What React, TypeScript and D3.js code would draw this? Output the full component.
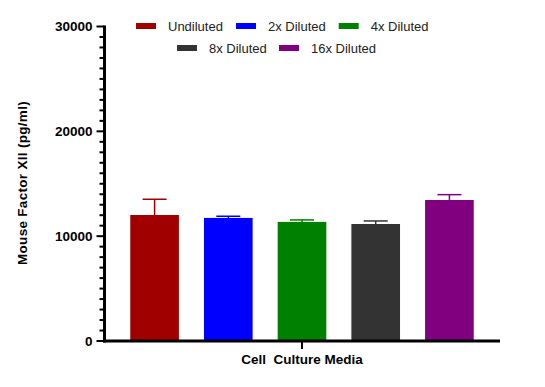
import { useEffect, useRef } from 'react';
import * as d3 from 'd3';

const groups = ['Undiluted', '2x Diluted', '4x Diluted', '8x Diluted', '16x Diluted'];
const means = [12020, 11740, 11360, 11160, 13450];
const errors = [1500, 160, 190, 290, 510];
const colors = ['#a00000', '#0000ff', '#008000', '#333333', '#800080'];
const yTicks = [0, 10000, 20000, 30000];
const legendRows = [[0, 1, 2], [3, 4]];

export default function App() {
  const svgRef = useRef<SVGSVGElement>(null);

  useEffect(() => {
    if (!svgRef.current) return;
    const svg = d3.select(svgRef.current);
    svg.selectAll('*').remove();

    const font = '"Liberation Sans", Arial, sans-serif';
    const left = 104.5;
    const right = 500;
    const bottom = 341;
    const top = 26.5;

    const x = d3.scaleBand<string>()
      .domain(groups)
      .range([117, 487])
      .paddingInner(0.34)
      .paddingOuter(0.18);
    const y = d3.scaleLinear().domain([0, 30000]).range([bottom, top]);

    const g = svg.append('g');

    // bars
    g.selectAll('rect.bar')
      .data(groups)
      .enter()
      .append('rect')
      .attr('x', (d) => x(d)!)
      .attr('y', (_, i) => y(means[i]))
      .attr('width', x.bandwidth())
      .attr('height', (_, i) => bottom - y(means[i]))
      .attr('fill', (_, i) => colors[i]);

    // error bars (upper only)
    groups.forEach((d, i) => {
      const cx = x(d)! + x.bandwidth() / 2;
      const yTop = y(means[i] + errors[i]);
      g.append('line')
        .attr('x1', cx).attr('x2', cx)
        .attr('y1', y(means[i])).attr('y2', yTop)
        .attr('stroke', colors[i])
        .attr('stroke-width', 1.5);
      g.append('line')
        .attr('x1', cx - 12).attr('x2', cx + 12)
        .attr('y1', yTop).attr('y2', yTop)
        .attr('stroke', colors[i])
        .attr('stroke-width', 1.5);
    });

    // y axis minor ticks
    const minor = d3.range(0, 30001, 1000).filter((v) => v % 10000 !== 0);
    minor.forEach((v) => {
      g.append('line')
        .attr('x1', left - 5).attr('x2', left)
        .attr('y1', y(v)).attr('y2', y(v))
        .attr('stroke', '#000')
        .attr('stroke-width', 2);
    });
    yTicks.forEach((v) => {
      g.append('line')
        .attr('x1', left - 8).attr('x2', left)
        .attr('y1', y(v)).attr('y2', y(v))
        .attr('stroke', '#000')
        .attr('stroke-width', 2);
      g.append('text')
        .attr('x', 92.5)
        .attr('y', y(v))
        .attr('dy', '0.35em')
        .attr('text-anchor', 'end')
        .attr('font-family', font)
        .attr('font-weight', 'bold')
        .attr('font-size', '13.5px')
        .attr('fill', '#000')
        .text(String(v));
    });

    // axis lines
    g.append('line')
      .attr('x1', left).attr('x2', left)
      .attr('y1', top - 1).attr('y2', bottom + 1.5)
      .attr('stroke', '#000')
      .attr('stroke-width', 3);
    g.append('line')
      .attr('x1', left - 1.5).attr('x2', right)
      .attr('y1', bottom).attr('y2', bottom)
      .attr('stroke', '#000')
      .attr('stroke-width', 3);

    // x tick + label
    const midX = x('4x Diluted')! + x.bandwidth() / 2;
    g.append('line')
      .attr('x1', midX).attr('x2', midX)
      .attr('y1', bottom).attr('y2', bottom + 8)
      .attr('stroke', '#000')
      .attr('stroke-width', 2);
    g.append('text')
      .attr('x', midX)
      .attr('y', 363.5)
      .attr('text-anchor', 'middle')
      .attr('font-family', font)
      .attr('font-weight', 'bold')
      .attr('font-size', '13.5px')
      .attr('fill', '#000')
      .attr('xml:space', 'preserve')
      .style('white-space', 'pre')
      .text('Cell  Culture Media');

    // y title
    g.append('text')
      .attr('transform', `translate(27, 183) rotate(-90)`)
      .attr('text-anchor', 'middle')
      .attr('font-family', font)
      .attr('font-weight', 'bold')
      .attr('font-size', '13.5px')
      .attr('letter-spacing', '0.3px')
      .attr('fill', '#000')
      .text('Mouse Factor XII (pg/ml)');

    // legend
    const rowStarts = [136, 177];
    const rowY = [26, 48];
    const itemGap = [100, 102];
    legendRows.forEach((row, r) => {
      let lx = rowStarts[r];
      row.forEach((idx) => {
        g.append('rect')
          .attr('x', lx)
          .attr('y', rowY[r] - 3)
          .attr('width', 20)
          .attr('height', 6)
          .attr('fill', colors[idx]);
        g.append('text')
          .attr('x', lx + 32)
          .attr('y', rowY[r])
          .attr('dy', '0.35em')
          .attr('font-family', font)
          .attr('font-size', '13px')
          .attr('fill', '#222')
          .text(groups[idx]);
        lx += itemGap[r] + (idx === 1 ? 2.7 : 0);
      });
    });
  }, []);

  return (
    <svg
      ref={svgRef}
      width={545}
      height={387}
      style={{ position: 'absolute', left: 0, top: 0, background: '#fff' }}
    />
  );
}
